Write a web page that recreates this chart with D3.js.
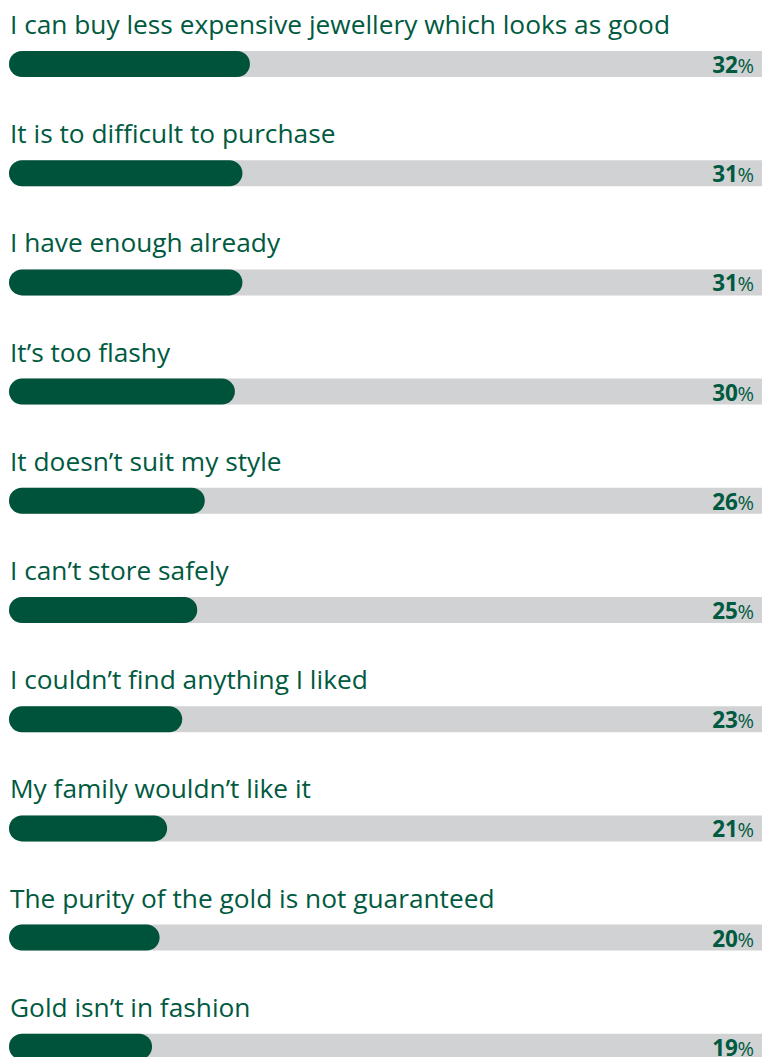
<!DOCTYPE html>
<html>
<head>
<meta charset="utf-8">
<script src="https://cdn.jsdelivr.net/npm/d3@7"></script>
<style>
  html, body { margin: 0; padding: 0; background: #ffffff; }
  svg { display: block; }
</style>
</head>
<body>
<div id="chart"></div>
<script>
// Reasons given for not buying gold jewellery (% of respondents)
const categories = [
  "I can buy less expensive jewellery which looks as good",
  "It is to difficult to purchase",
  "I have enough already",
  "It\u2019s too flashy",
  "It doesn\u2019t suit my style",
  "I can\u2019t store safely",
  "I couldn\u2019t find anything I liked",
  "My family wouldn\u2019t like it",
  "The purity of the gold is not guaranteed",
  "Gold isn\u2019t in fashion"
];
const values = [32, 31, 31, 30, 26, 25, 23, 21, 20, 19];
const maxValue = 100;

const width = 762, height = 1057;
const left = 9, right = 762;
const barH = 26;
const rowStep = 109.2;
const firstBarTop = 51;

const green = "#00533b";
const track = "#d1d2d4";
const textGreen = "#005a3f";

const svg = d3.select("#chart").append("svg")
  .attr("width", width).attr("height", height);

const x = d3.scaleLinear().domain([0, maxValue]).range([left, right]);
const y = d3.scaleLinear().domain([0, 1]).range([firstBarTop, firstBarTop + rowStep]);

const rows = svg.selectAll("g.row")
  .data(categories.map((c, i) => ({ c, v: values[i], i })))
  .join("g")
  .attr("class", "row")
  .attr("transform", d => `translate(0,${y(d.i)})`);

const titles = rows.append("text")
  .attr("x", 10)
  .attr("y", -17)
  .attr("fill", textGreen)
  .style("font-family", "'Open Sans', 'Liberation Sans', sans-serif")
  .style("font-size", "24px")
  .text(d => d.c);

// fit the longest category to its intended width
const longest = titles.filter(d => d.i === 0).node();
const w0 = longest.getComputedTextLength();
const fs = 24 * 660 / w0;
titles.style("font-size", fs.toFixed(2) + "px");

rows.append("rect")
  .attr("x", x(0))
  .attr("y", 0)
  .attr("width", x(maxValue) - x(0) + barH / 2)
  .attr("height", barH)
  .attr("rx", barH / 2)
  .attr("fill", track);

rows.append("rect")
  .attr("x", x(0))
  .attr("y", 0)
  .attr("width", d => x(d.v) - x(0))
  .attr("height", barH)
  .attr("rx", barH / 2)
  .attr("fill", green);

const lbl = rows.append("text")
  .attr("x", 754)
  .attr("y", 22)
  .attr("text-anchor", "end")
  .attr("fill", textGreen)
  .style("font-family", "'Open Sans', 'Liberation Sans', sans-serif");
lbl.append("tspan")
  .style("font-size", "22.5px")
  .style("font-weight", "bold")
  .attr("letter-spacing", "-0.3")
  .text(d => d.v);
lbl.append("tspan")
  .style("font-size", "20px")
  .text("%");
</script>
</body>
</html>
